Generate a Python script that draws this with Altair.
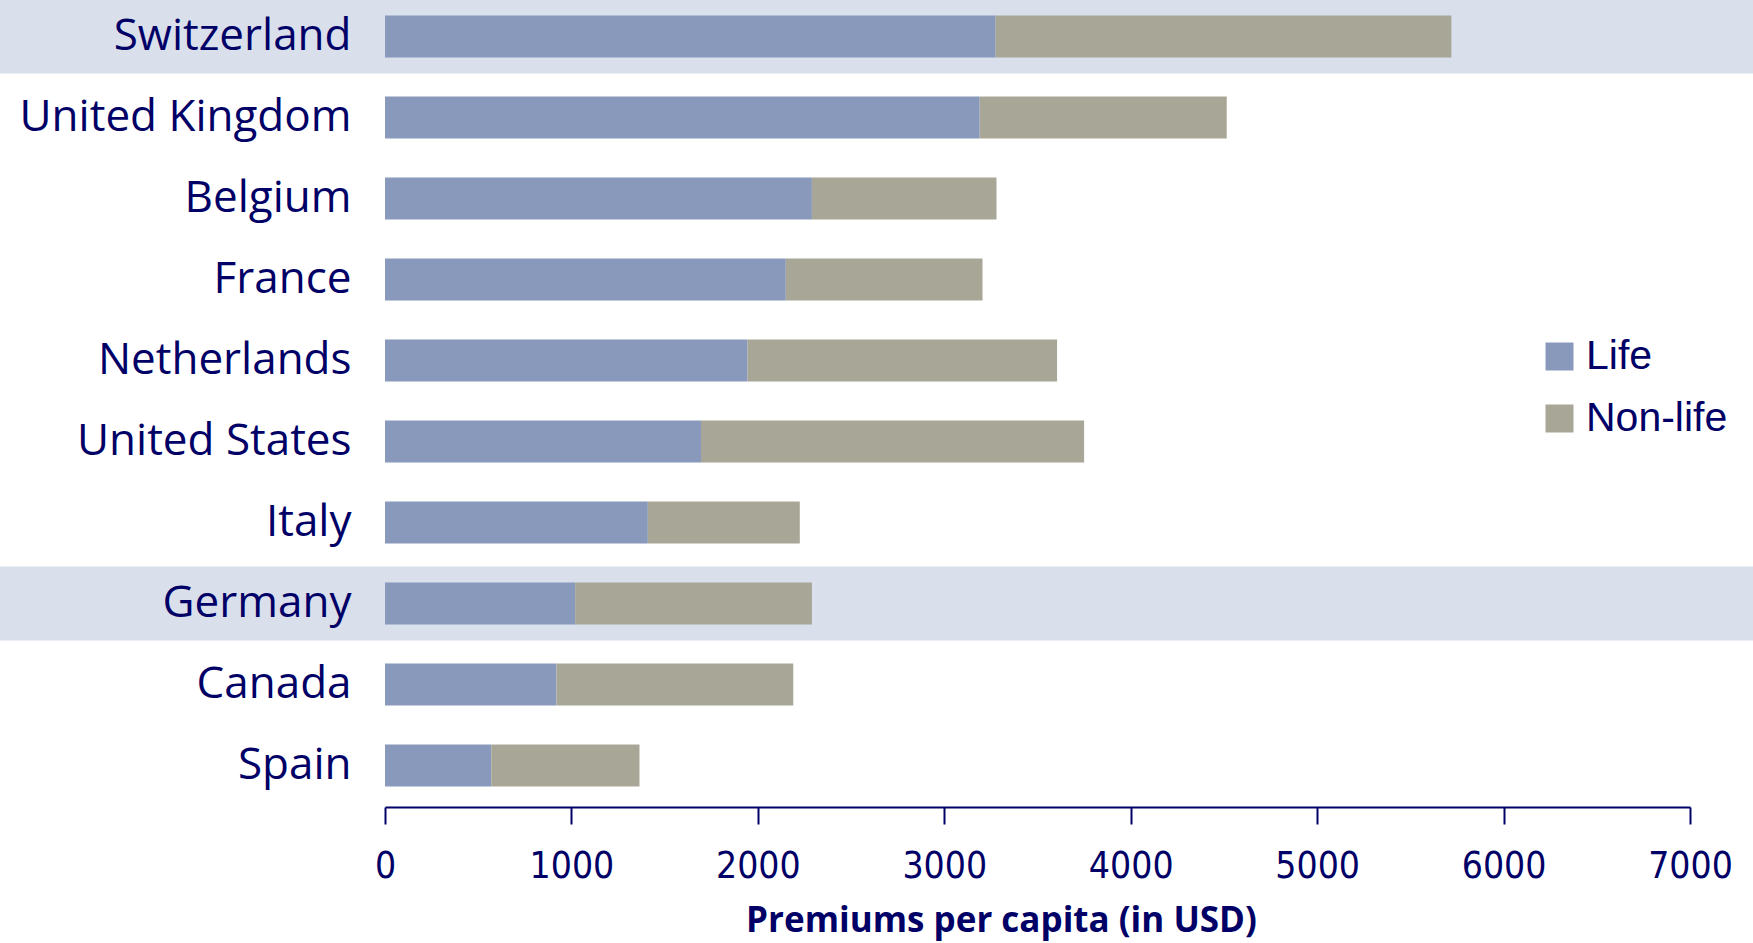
import altair as alt
import pandas as pd

countries = ["Switzerland", "United Kingdom", "Belgium", "France", "Netherlands",
             "United States", "Italy", "Germany", "Canada", "Spain"]
life = [3275, 3190, 2290, 2150, 1945, 1695, 1410, 1020, 920, 570]
total = [5720, 4515, 3280, 3205, 3605, 3750, 2225, 2290, 2190, 1365]
non_life = [t - l for t, l in zip(total, life)]
highlighted = ["Switzerland", "Germany"]
segments = ["Life", "Non-life"]
seg_colors = ["#8899BB", "#A8A797"]
ticks = [0, 1000, 2000, 3000, 4000, 5000, 6000, 7000]

NAVY = "#000066"

rows = []
for c, l, n in zip(countries, life, non_life):
    rows.append({"country": c, "segment": "Life", "value": l, "ord": 0})
    rows.append({"country": c, "segment": "Non-life", "value": n, "ord": 1})
df = pd.DataFrame(rows)
hl = pd.DataFrame({"country": highlighted})

yenc = alt.Y("country:N", sort=countries,
             scale=alt.Scale(paddingInner=0, paddingOuter=0, range=[-4, 806]),
             axis=alt.Axis(title=None, domain=False, ticks=False, zindex=1,
                           labelFont="Open Sans", labelFontSize=44,
                           labelColor=NAVY, labelPadding=34, labelLimit=400))

band = alt.Chart(hl).mark_bar(color="#D9DFEB", size=74).encode(
    y=yenc,
    x=alt.value(-385),
    x2=alt.value(1368),
)

bars = alt.Chart(df).mark_bar(size=42).encode(
    y=yenc,
    x=alt.X("value:Q", stack="zero",
            scale=alt.Scale(domain=[0, 7000], nice=False),
            axis=alt.Axis(title="Premiums per capita (in USD)", values=ticks, format="d",
                          grid=False, domainColor=NAVY, domainWidth=2, zindex=1,
                          tickColor=NAVY, tickWidth=2, tickSize=17,
                          labelFont="DejaVu Sans Condensed, Open Sans", labelFontSize=37,
                          labelColor=NAVY, labelPadding=24,
                          titleFont="Open Sans", titleFontWeight="bold",
                          titleFontSize=35, titleColor=NAVY,
                          titleX=616, titleY=124, titleBaseline="alphabetic",
                          labelFlush=False)),
    color=alt.Color("segment:N",
                    scale=alt.Scale(domain=segments, range=seg_colors),
                    legend=alt.Legend(title=None, orient="none", legendX=1154, legendY=336,
                                      symbolType="square", symbolSize=784,
                                      symbolStrokeWidth=0, symbolOpacity=1,
                                      labelFont="Liberation Sans", labelFontSize=41,
                                      labelColor=NAVY, rowPadding=20, labelOffset=6)),
    order=alt.Order("ord:Q"),
)

chart = alt.layer(band, bars).properties(
    width=1305, height=807,
    padding={"left": 385, "top": 0, "right": 63, "bottom": 136},
    autosize=alt.AutoSizeParams(type="none"),
    background="white",
).configure_view(stroke=None)

chart.save("out.html", embed_options={"renderer": "svg", "actions": False})
